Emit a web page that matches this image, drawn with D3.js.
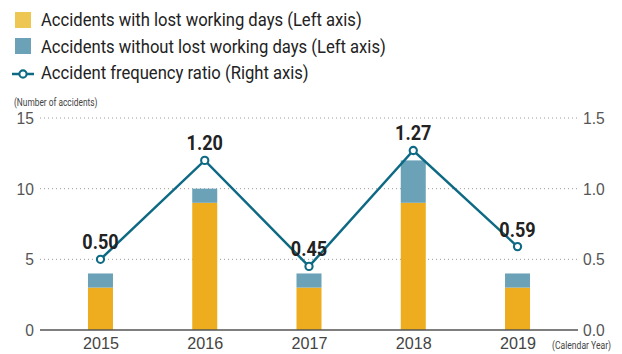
<!DOCTYPE html>
<html>
<head>
<meta charset="utf-8">
<script src="https://cdn.jsdelivr.net/npm/d3@7"></script>
<style>
  html, body { margin: 0; padding: 0; background: #fff; }
  svg { display: block; font-family: "Roboto", "Liberation Sans", sans-serif; }
  /* condensed look for the text */
  .nl { transform-box: fill-box; transform-origin: left center; }
  .nc { transform-box: fill-box; transform-origin: center center; }
  .nr { transform-box: fill-box; transform-origin: right center; }
</style>
</head>
<body>
<svg id="chart" width="622" height="354"></svg>
<script>
// Occupational accident data by calendar year
const years = ["2015", "2016", "2017", "2018", "2019"];
const lostDays = [3, 9, 3, 9, 3];
const noLostDays = [1, 1, 1, 3, 1];
const frequencyRatio = [0.50, 1.20, 0.45, 1.27, 0.59];
const leftTicks = [0, 5, 10, 15];
const rightTicks = [0, 0.5, 1.0, 1.5];
const legendLabels = [
  "Accidents with lost working days (Left axis)",
  "Accidents without lost working days (Left axis)",
  "Accident frequency ratio (Right axis)"
];

const colors = {
  lost: "#EEAC1F",
  lostLegend: "#EDC654",
  noLost: "#6BA2B7",
  line: "#0E6A84",
  grid: "#999"
};

const svg = d3.select("#chart");
const plot = { left: 40, right: 578, top: 118, bottom: 330 };

const x = d3.scalePoint().domain(years).range([plot.left, plot.right]).padding(0.58);
const yLeft = d3.scaleLinear().domain([0, 15]).range([plot.bottom, plot.top]);
const yRight = d3.scaleLinear().domain([0, 1.5]).range([plot.bottom, plot.top]);
const barW = 25;

// Dotted gridlines
svg.append("g").selectAll("line")
  .data(leftTicks.filter(d => d > 0))
  .join("line")
  .attr("x1", plot.left).attr("x2", plot.right)
  .attr("y1", d => yLeft(d)).attr("y2", d => yLeft(d))
  .attr("stroke", colors.grid).attr("stroke-width", 1)
  .attr("stroke-dasharray", "1,3");

// Left axis labels
const leftAxis = svg.append("g")
  .attr("transform", `translate(${plot.left - 6},0)`)
  .call(d3.axisLeft(yLeft).tickValues(leftTicks).tickSize(0).tickPadding(0));
leftAxis.select(".domain").remove();
leftAxis.selectAll("text")
  .attr("class", "nr").style("transform", "scaleX(0.92)")
  .attr("font-size", 17).attr("fill", "#555").attr("font-family", null);

// Right axis labels
const rightAxis = svg.append("g")
  .attr("transform", `translate(${plot.right + 5},0)`)
  .call(d3.axisRight(yRight).tickValues(rightTicks).tickSize(0).tickPadding(0)
    .tickFormat(d3.format(".1f")));
rightAxis.select(".domain").remove();
rightAxis.selectAll("text")
  .attr("class", "nl").style("transform", "scaleX(0.92)")
  .attr("font-size", 17).attr("fill", "#555").attr("font-family", null);

// Stacked bars
const stacked = years.map((yr, i) => ({ year: yr, lost: lostDays[i], noLost: noLostDays[i] }));
const bars = svg.append("g");
bars.selectAll("rect.lost")
  .data(stacked).join("rect").attr("class", "lost")
  .attr("x", d => x(d.year) - barW / 2).attr("width", barW)
  .attr("y", d => yLeft(d.lost))
  .attr("height", d => yLeft(0) - yLeft(d.lost))
  .attr("fill", colors.lost);
bars.selectAll("rect.nolost")
  .data(stacked).join("rect").attr("class", "nolost")
  .attr("x", d => x(d.year) - barW / 2).attr("width", barW)
  .attr("y", d => yLeft(d.lost + d.noLost))
  .attr("height", d => yLeft(d.lost) - yLeft(d.lost + d.noLost))
  .attr("fill", colors.noLost);

// Baseline
svg.append("line")
  .attr("x1", plot.left).attr("x2", plot.right)
  .attr("y1", plot.bottom).attr("y2", plot.bottom)
  .attr("stroke", "#555").attr("stroke-width", 1.5);

// X axis labels
const xAxis = svg.append("g")
  .attr("transform", `translate(0,${plot.bottom})`)
  .call(d3.axisBottom(x).tickSize(0).tickPadding(7));
xAxis.select(".domain").remove();
xAxis.selectAll("text")
  .attr("class", "nc").style("transform", "scaleX(0.95)")
  .attr("font-size", 17).attr("fill", "#444").attr("font-family", null)
  .attr("dy", "0.71em");

// Frequency ratio line
const pts = years.map((yr, i) => ({ year: yr, v: frequencyRatio[i] }));
svg.append("path")
  .datum(pts)
  .attr("fill", "none")
  .attr("stroke", colors.line).attr("stroke-width", 2.5)
  .attr("d", d3.line().x(d => x(d.year)).y(d => yRight(d.v)));
svg.append("g").selectAll("circle")
  .data(pts).join("circle")
  .attr("cx", d => x(d.year)).attr("cy", d => yRight(d.v))
  .attr("r", 3.6)
  .attr("fill", "#fff").attr("stroke", colors.line).attr("stroke-width", 2.1);
svg.append("g").selectAll("text")
  .data(pts).join("text")
  .attr("class", "nc").style("transform", "scaleX(0.86)")
  .attr("x", d => x(d.year)).attr("y", d => yRight(d.v) - 10)
  .attr("text-anchor", "middle")
  .attr("font-size", 21).attr("font-weight", "bold").attr("fill", "#222")
  .text(d => d3.format(".2f")(d.v));

// Axis captions
svg.append("text")
  .attr("class", "nl").style("transform", "scaleX(0.76)")
  .attr("x", 14).attr("y", 106)
  .attr("font-size", 11).attr("fill", "#444")
  .text("(Number of accidents)");
svg.append("text")
  .attr("class", "nl").style("transform", "scaleX(0.78)")
  .attr("x", 552).attr("y", 349)
  .attr("font-size", 11).attr("fill", "#444")
  .text("(Calendar Year)");

// Legend
const legend = svg.append("g");
const rowY = [26, 53, 79];
legend.append("rect").attr("x", 15).attr("y", 12).attr("width", 16).attr("height", 16)
  .attr("fill", colors.lostLegend);
legend.append("rect").attr("x", 15).attr("y", 38).attr("width", 16).attr("height", 16)
  .attr("fill", colors.noLost);
legend.append("line").attr("x1", 12).attr("x2", 34).attr("y1", 74).attr("y2", 74)
  .attr("stroke", colors.line).attr("stroke-width", 2.5);
legend.append("circle").attr("cx", 23).attr("cy", 74).attr("r", 3.6)
  .attr("fill", "#fff").attr("stroke", colors.line).attr("stroke-width", 2.1);
legend.selectAll("text.lbl")
  .data(legendLabels).join("text")
  .attr("class", "lbl nl").style("transform", "scaleX(0.875)")
  .attr("x", 41).attr("y", (d, i) => rowY[i])
  .attr("font-size", 19).attr("fill", "#222")
  .text(d => d);
</script>
</body>
</html>
